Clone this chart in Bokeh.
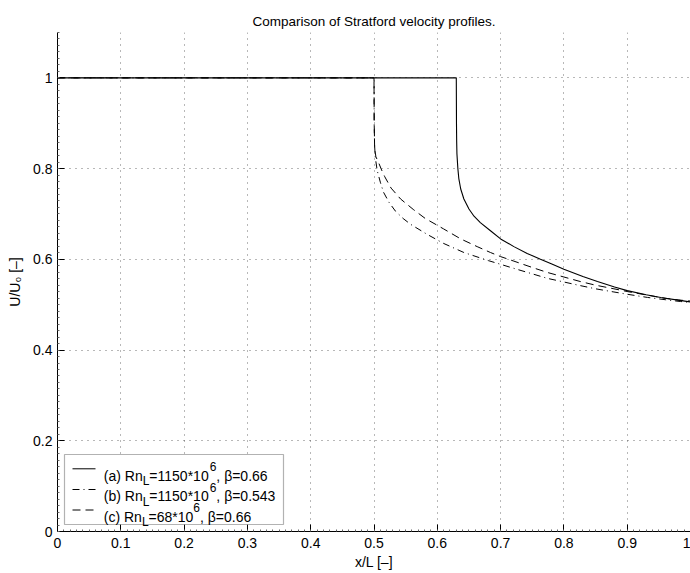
import numpy as np
from bokeh.plotting import figure
from bokeh.models import FixedTicker, Label, BoxAnnotation, Range1d, Title
from bokeh.embed import file_html
from bokeh.resources import INLINE

# ---------------- data ----------------
title_text = "Comparison of Stratford velocity profiles."
x_label = "x/L [–]"
y_label = "U/U₀ [–]"

x_ticks = [0, 0.1, 0.2, 0.3, 0.4, 0.5, 0.6, 0.7, 0.8, 0.9, 1.0]
x_tick_labels = ["0", "0.1", "0.2", "0.3", "0.4", "0.5", "0.6", "0.7", "0.8", "0.9", "1"]
y_ticks = [0, 0.2, 0.4, 0.6, 0.8, 1.0]
y_tick_labels = ["0", "0.2", "0.4", "0.6", "0.8", "1"]

# (a) solid
xa = [0, 0.630, 0.6303, 0.6306, 0.631, 0.6325, 0.634, 0.637, 0.642, 0.650, 0.658,
      0.668, 0.684, 0.700, 0.721, 0.742, 0.763, 0.780, 0.800, 0.830, 0.853, 0.880,
      0.900, 0.930, 0.953, 0.980, 1.0]
ya = [1.0, 1.0, 0.90, 0.86, 0.833, 0.800, 0.778, 0.755, 0.733, 0.711, 0.695,
      0.681, 0.663, 0.645, 0.628, 0.613, 0.600, 0.590, 0.578, 0.562, 0.551, 0.539,
      0.531, 0.522, 0.516, 0.510, 0.506]
# (b) dash-dot
xb = [0, 0.500, 0.5003, 0.501, 0.502, 0.505, 0.510, 0.515, 0.524, 0.534, 0.546,
      0.558, 0.584, 0.610, 0.642, 0.681, 0.700, 0.721, 0.750, 0.774, 0.800, 0.826,
      0.850, 0.879, 0.900, 0.932, 0.960, 0.984, 1.0]
yb = [1.0, 1.0, 0.90, 0.85, 0.825, 0.796, 0.770, 0.748, 0.725, 0.706, 0.690,
      0.677, 0.655, 0.635, 0.615, 0.597, 0.589, 0.580, 0.568, 0.558, 0.550, 0.542,
      0.535, 0.528, 0.523, 0.516, 0.511, 0.507, 0.505]
# (c) dashed
xc = [0, 0.500, 0.5003, 0.501, 0.503, 0.5076, 0.512, 0.517, 0.527, 0.542, 0.562,
      0.581, 0.610, 0.637, 0.663, 0.684, 0.700, 0.721, 0.750, 0.774, 0.800, 0.826,
      0.850, 0.879, 0.900, 0.932, 0.960, 0.984, 1.0]
yc = [1.0, 1.0, 0.90, 0.845, 0.826, 0.812, 0.797, 0.782, 0.757, 0.733, 0.710,
      0.690, 0.667, 0.645, 0.628, 0.615, 0.606, 0.596, 0.582, 0.571, 0.561, 0.551,
      0.543, 0.535, 0.529, 0.521, 0.514, 0.510, 0.508]

legend_prefix = ["(a) Rn", "(b) Rn", "(c) Rn"]
legend_sub = ["L", "L", "L"]
legend_mid = ["=1150*10", "=1150*10", "=68*10"]
legend_sup = ["6", "6", "6"]
legend_tail = [", β=0.66", ", β=0.543", ", β=0.66"]

# ---------------- layout ----------------
W, H = 690, 573
FL, FT, FB, FR = 57, 32, 531, 690
X0, X1, Y0, Y1 = 0.0, 1.0, 0.0, 1.1
FONT = "Liberation Sans"
MAIN = 14
SMALL = 12

def dx(px):
    return X0 + (px - FL) / (FR - FL) * (X1 - X0)

def dy(py):
    return Y0 + (FB - py) / (FB - FT) * (Y1 - Y0)

AW = {'(': 333, ')': 333, 'a': 556, 'b': 556, 'c': 500, ' ': 278, 'R': 722,
      'n': 556, 'L': 556, '=': 584, '*': 389, ',': 278, '.': 278, 'β': 575}

def tw(s, size):
    return sum(AW.get(ch, 556) for ch in s) * size / 1000.0

p = figure(width=W, height=H, x_range=Range1d(X0, X1), y_range=Range1d(Y0, Y1),
           output_backend="svg", toolbar_location=None,
           min_border_left=FL, min_border_right=W - FR, min_border_top=FT,
           min_border_bottom=H - FB, outline_line_color=None,
           background_fill_color="white", border_fill_color="white")

# title
p.title = Title(text=title_text, align="center", offset=-5, standoff=8,
                text_font=FONT, text_font_size="13.5px", text_font_style="normal",
                text_color="black")

# axes
p.xaxis.ticker = FixedTicker(ticks=x_ticks, minor_ticks=list(np.round(np.arange(0, 1.0001, 0.01), 4)))
p.yaxis.ticker = FixedTicker(ticks=y_ticks, minor_ticks=list(np.round(np.arange(0, 1.1001, 0.2 / 14), 5)))
p.xaxis.major_label_overrides = {t: l for t, l in zip(x_ticks, x_tick_labels)}
p.yaxis.major_label_overrides = {t: l for t, l in zip(y_ticks, y_tick_labels)}
for ax in (p.xaxis, p.yaxis):
    ax.axis_line_color = "black"
    ax.axis_line_width = 1
    ax.major_tick_in = 7
    ax.major_tick_out = 0
    ax.minor_tick_in = 2
    ax.minor_tick_out = 0
    ax.major_tick_line_color = "black"
    ax.minor_tick_line_color = "#666666"
    ax.major_label_text_font = FONT
    ax.major_label_text_font_size = f"{MAIN}px"
    ax.major_label_text_color = "black"
    ax.axis_label_text_font = FONT
    ax.axis_label_text_font_size = f"{MAIN}px"
    ax.axis_label_text_font_style = "normal"
    ax.axis_label_text_color = "black"
p.xaxis.axis_label = x_label
p.yaxis.axis_label = y_label
p.xaxis.major_label_standoff = 6
p.yaxis.major_label_standoff = 5
p.xaxis.axis_label_standoff = 3
p.yaxis.axis_label_standoff = 7

# grid
p.xgrid.ticker = FixedTicker(ticks=x_ticks)
p.ygrid.ticker = FixedTicker(ticks=y_ticks)
for g in (p.xgrid, p.ygrid):
    g.grid_line_color = "#333333"
    g.grid_line_alpha = 0.7
    g.grid_line_dash = "1 5"
    g.grid_line_width = 1

# curves
p.line(xa, ya, line_color="black", line_width=1.1)
p.line(xb, yb, line_color="black", line_width=1, line_dash="7 4 1 4")
p.line(xc, yc, line_color="black", line_width=1, line_dash="8 5")

# legend box
p.add_layout(BoxAnnotation(left=dx(64), right=dx(283), top=dy(454), bottom=dy(524),
                           fill_color="white", fill_alpha=1.0, line_color="black",
                           line_width=1.2, level="annotation"))

row_y = [468.3, 489.0, 509.5]
dashes = ["solid", "7 4 1 4", "8 5"]
text_x0 = 103.3
for i in range(3):
    r = p.line([dx(72), dx(95)], [dy(row_y[i]), dy(row_y[i])], line_color="black",
               line_width=1, line_dash=dashes[i])
    r.level = "overlay"
    base = row_y[i] + 6.7
    pieces = [
        (legend_prefix[i], MAIN, 0.0),
        (legend_sub[i], SMALL, -5.7),
        (legend_mid[i], MAIN, 0.0),
        (legend_sup[i], SMALL, 9.0),
        (legend_tail[i], MAIN, 0.0),
    ]
    xcur = text_x0
    for txt, size, rise in pieces:
        p.add_layout(Label(x=X0, y=Y0, x_offset=xcur - FL, y_offset=(FB - base) + rise,
                           text=txt, text_align="left", text_baseline="alphabetic",
                           text_font=FONT, text_font_size=f"{size}px",
                           text_color="black", level="overlay"))
        xcur += tw(txt, size)

open("out.html", "w").write(file_html(p, INLINE))
